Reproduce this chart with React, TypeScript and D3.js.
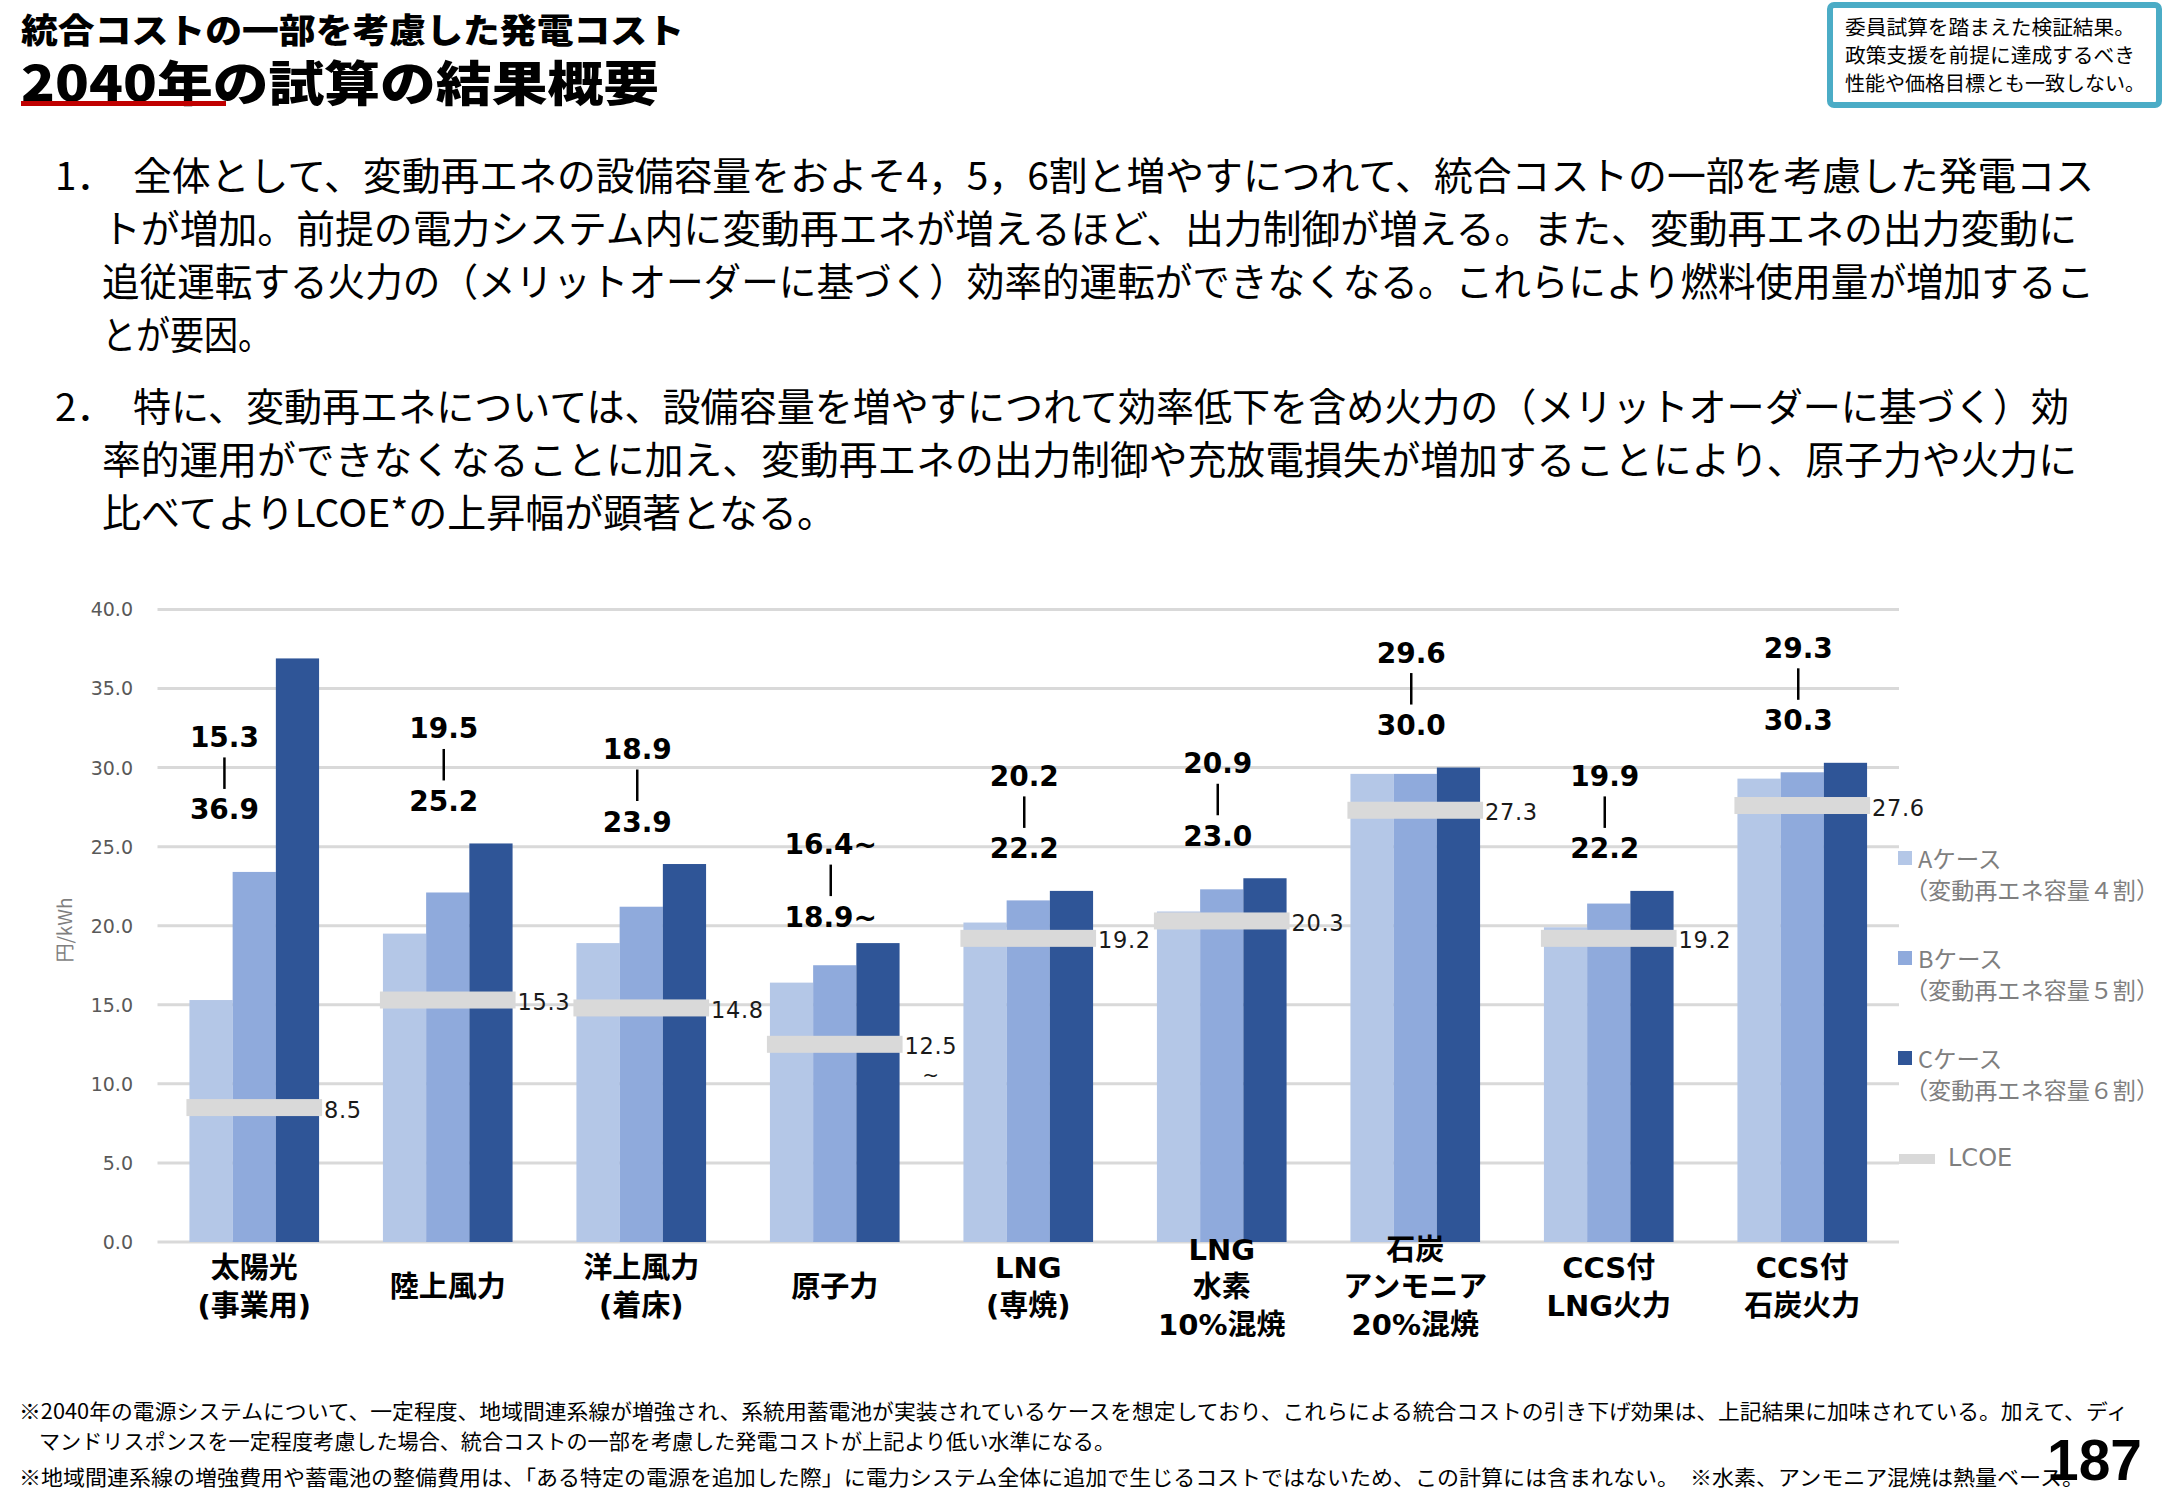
import React from "react";
import * as d3 from "d3";

// ---------------- DATA ----------------
const categoryLines: string[][] = [
  ["太陽光", "(事業用)"],
  ["陸上風力"],
  ["洋上風力", "(着床)"],
  ["原子力"],
  ["LNG", "(専焼)"],
  ["LNG", "水素", "10%混焼"],
  ["石炭", "アンモニア", "20%混焼"],
  ["CCS付", "LNG火力"],
  ["CCS付", "石炭火力"],
];
const caseA = [15.3, 19.5, 18.9, 16.4, 20.2, 20.9, 29.6, 19.9, 29.3];
const caseB = [23.4, 22.1, 21.2, 17.5, 21.6, 22.3, 29.6, 21.4, 29.7];
const caseC = [36.9, 25.2, 23.9, 18.9, 22.2, 23.0, 30.0, 22.2, 30.3];
const lcoeValues = [8.5, 15.3, 14.8, 12.5, 19.2, 20.3, 27.3, 19.2, 27.6];
const rangeSuffix = ["", "", "", "~", "", "", "", "", ""];
const lcoeOpenEnded = [false, false, false, true, false, false, false, false, false];
const yTickValues = [0, 5, 10, 15, 20, 25, 30, 35, 40];
const seriesKeys = ["A", "B", "C"];
const seriesNames = ["Aケース", "Bケース", "Cケース"];
const seriesNotes = ["（変動再エネ容量４割）", "（変動再エネ容量５割）", "（変動再エネ容量６割）"];
const lcoeName = "LCOE";
const yAxisTitle = "円/kWh";

const titleLine1 = "統合コストの一部を考慮した発電コスト";
const titleLine2 = "2040年の試算の結果概要";
const noteBoxLines = ["委員試算を踏まえた検証結果。", "政策支援を前提に達成するべき", "性能や価格目標とも一致しない。"];

const para1Marker = "1．";
const para1Lines = [
  "全体として、変動再エネの設備容量をおよそ4，5，6割と増やすにつれて、統合コストの一部を考慮した発電コス",
  "トが増加。前提の電力システム内に変動再エネが増えるほど、出力制御が増える。また、変動再エネの出力変動に",
  "追従運転する火力の（メリットオーダーに基づく）効率的運転ができなくなる。これらにより燃料使用量が増加するこ",
  "とが要因。",
];
const para2Marker = "2．";
const para2Lines = [
  "特に、変動再エネについては、設備容量を増やすにつれて効率低下を含め火力の（メリットオーダーに基づく）効",
  "率的運用ができなくなることに加え、変動再エネの出力制御や充放電損失が増加することにより、原子力や火力に",
  "比べてよりLCOE*の上昇幅が顕著となる。",
];
const footnoteLines = [
  "※2040年の電源システムについて、一定程度、地域間連系線が増強され、系統用蓄電池が実装されているケースを想定しており、これらによる統合コストの引き下げ効果は、上記結果に加味されている。加えて、ディ",
  "マンドリスポンスを一定程度考慮した場合、統合コストの一部を考慮した発電コストが上記より低い水準になる。",
  "※地域間連系線の増強費用や蓄電池の整備費用は、「ある特定の電源を追加した際」に電力システム全体に追加で生じるコストではないため、この計算には含まれない。　※水素、アンモニア混焼は熱量ベース。",
];
const pageNumber = "187";

// ---------------- STYLE ----------------
const JP = "'Noto Sans CJK JP', sans-serif";
const NUM = "'DejaVu Sans', 'Noto Sans CJK JP', sans-serif";
const seriesColors = ["#b4c7e7", "#8faadc", "#2f5597"];
const lcoeColor = "#d9d9d9";
const gridColor = "#d9d9d9";

export default function App() {
  const W = 2167;
  const H = 1500;
  const plotLeft = 157.5;
  const plotRight = 1899;
  const yBottom = 1242;
  const yTop = 609.4;

  const y = d3.scaleLinear().domain([0, 40]).range([yBottom, yTop]);
  const x0 = d3
    .scaleBand<number>()
    .domain(d3.range(categoryLines.length))
    .range([plotLeft, plotRight])
    .paddingInner(0.33)
    .paddingOuter(0.165);
  const bw = x0.bandwidth();
  const x1 = d3.scaleBand<string>().domain(seriesKeys).range([0, bw]).padding(0);
  const series = [caseA, caseB, caseC];
  const fmt = d3.format(".1f");

  // paragraph layout
  const paraFont = 38.5;
  const p1Ends = [2094, 2077, 2094, 272];
  const p2Ends = [2069, 2077, 836];
  const lineStep = 53.2;
  const p1Y0 = 172.5;
  const p2Y0 = 404;
  const firstX = 133;
  const contX = 102;

  const footY = [1410, 1440, 1476];
  const footX = [19, 39, 19];
  const footEnd = [2128, 1115, 2084];

  return (
    <svg
      width={W}
      height={H}
      viewBox={`0 0 ${W} ${H}`}
      style={{ position: "absolute", left: 0, top: 0, background: "#fff" }}
    >
      <rect x={0} y={0} width={W} height={H} fill="#fff" />

      {/* Titles */}
      <text x={21} y={28} fontFamily={JP} fontWeight={900} fontSize={34} dominantBaseline="central"
        textLength={663} lengthAdjust="spacingAndGlyphs" fill="#000">{titleLine1}</text>
      <text x={21} y={79.5} fontFamily={JP} fontWeight={900} fontSize={48} dominantBaseline="central"
        textLength={638} lengthAdjust="spacingAndGlyphs" fill="#000">{titleLine2}</text>
      <rect x={21} y={101} width={205} height={5} fill="#c00000" />

      {/* Note box */}
      <rect x={1830} y={5} width={329} height={100} rx={4} fill="#fff" stroke="#4bacc6" strokeWidth={6} />
      {noteBoxLines.map((t, i) => (
        <text key={i} x={1845} y={26 + i * 28} fontFamily={JP} fontSize={20} dominantBaseline="central" fill="#000"
          textLength={i === 2 ? 300 : 290} lengthAdjust="spacingAndGlyphs">{t}</text>
      ))}

      {/* Paragraph 1 */}
      <text x={55} y={p1Y0} fontFamily={JP} fontSize={paraFont} dominantBaseline="central" fill="#000">{para1Marker}</text>
      {para1Lines.map((t, i) => {
        const xs = i === 0 ? firstX : contX;
        return (
          <text key={i} x={xs} y={p1Y0 + i * lineStep} fontFamily={JP} fontSize={paraFont} dominantBaseline="central"
            fill="#000" textLength={p1Ends[i] - xs} lengthAdjust="spacingAndGlyphs">{t}</text>
        );
      })}
      {/* Paragraph 2 */}
      <text x={55} y={p2Y0} fontFamily={JP} fontSize={paraFont} dominantBaseline="central" fill="#000">{para2Marker}</text>
      {para2Lines.map((t, i) => {
        const xs = i === 0 ? firstX : contX;
        return (
          <text key={i} x={xs} y={p2Y0 + i * lineStep} fontFamily={JP} fontSize={paraFont} dominantBaseline="central"
            fill="#000" textLength={p2Ends[i] - xs} lengthAdjust="spacingAndGlyphs">{t}</text>
        );
      })}

      {/* Gridlines and y ticks */}
      {yTickValues.map((v) => (
        <g key={v}>
          <line x1={plotLeft} x2={plotRight} y1={y(v)} y2={y(v)} stroke={gridColor} strokeWidth={3} />
          <text x={133} y={y(v)} textAnchor="end" dominantBaseline="central" fontFamily={NUM} fontSize={19} fill="#595959">
            {fmt(v)}
          </text>
        </g>
      ))}
      <text
        transform={`translate(63, ${930}) rotate(-90)`}
        textAnchor="middle"
        dominantBaseline="central"
        fontFamily={JP}
        fontSize={19}
        fill="#7f7f7f"
      >
        {yAxisTitle}
      </text>

      {/* Bars */}
      {categoryLines.map((_, i) => (
        <g key={i} transform={`translate(${x0(i)},0)`}>
          {series.map((s, k) => (
            <rect key={k} x={x1(seriesKeys[k])} y={y(s[i])} width={x1.bandwidth()} height={y(0) - y(s[i])} fill={seriesColors[k]} />
          ))}
        </g>
      ))}

      {/* LCOE markers */}
      {lcoeValues.map((v, i) => {
        const gx = x0(i) as number;
        const lx = gx + bw + 5;
        return (
          <g key={i}>
            <rect x={gx - 3} y={y(v) - 8.5} width={bw + 6} height={17} fill={lcoeColor} />
            <text x={lx} y={y(v) + 2} dominantBaseline="central" fontFamily={NUM} fontSize={22.5} letterSpacing={0.6} fill="#1a1a1a">
              {fmt(v)}
            </text>
            {lcoeOpenEnded[i] && (
              <text x={lx + 26} y={y(v) + 31} textAnchor="middle" dominantBaseline="central" fontFamily={NUM} fontSize={20} fill="#1a1a1a">
                ~
              </text>
            )}
          </g>
        );
      })}

      {/* Range annotations (A case – C case) */}
      {categoryLines.map((_, i) => {
        const gx = x0(i) as number;
        const outlier = caseC[i] - caseB[i] > 10;
        const ax = outlier ? gx + bw * 0.27 : gx + bw / 2 - 4;
        const ref = outlier ? caseB[i] : caseC[i];
        const lowY = y(ref) - (outlier ? 62 : rangeSuffix[i] ? 26 : 42);
        const upY = lowY - 72.5;
        return (
          <g key={i} fontFamily={NUM} fontWeight="bold" fontSize={28} fill="#000">
            <text x={ax} y={upY} textAnchor="middle" dominantBaseline="central">{fmt(caseA[i]) + rangeSuffix[i]}</text>
            <line x1={ax} x2={ax} y1={upY + 20} y2={lowY - 21} stroke="#000" strokeWidth={2.5} />
            <text x={ax} y={lowY} textAnchor="middle" dominantBaseline="central">{fmt(caseC[i]) + rangeSuffix[i]}</text>
          </g>
        );
      })}

      {/* Category labels */}
      {categoryLines.map((lines, i) => {
        const cx = (x0(i) as number) + bw / 2;
        const step = 37.5;
        const c = 1287;
        return (
          <text key={i} textAnchor="middle" fontFamily={NUM} fontWeight="bold" fontSize={29} fill="#000">
            {lines.map((l, j) => (
              <tspan key={j} x={cx} y={c + (j - (lines.length - 1) / 2) * step} dominantBaseline="central">
                {l}
              </tspan>
            ))}
          </text>
        );
      })}

      {/* Legend */}
      {seriesNames.map((n, k) => {
        const cy = 858 + k * 100;
        return (
          <g key={k}>
            <rect x={1898} y={cy - 7} width={14} height={14} fill={seriesColors[k]} />
            <text x={1918} y={cy} dominantBaseline="central" fontFamily={JP} fontSize={23.5} fill="#7f7f7f">{n}</text>
            <text x={1905} y={cy + 31} dominantBaseline="central" fontFamily={JP} fontSize={23} fill="#7f7f7f"
              textLength={254} lengthAdjust="spacingAndGlyphs">{seriesNotes[k]}</text>
          </g>
        );
      })}
      <rect x={1899} y={1154} width={36} height={10} fill={lcoeColor} />
      <text x={1948} y={1158} dominantBaseline="central" fontFamily={NUM} fontSize={24} fill="#7f7f7f">{lcoeName}</text>

      {/* Footnotes */}
      {footnoteLines.map((t, i) => (
        <text key={i} x={footX[i]} y={footY[i]} dominantBaseline="central" fontFamily={JP} fontSize={21} fill="#000"
          textLength={footEnd[i] - footX[i]} lengthAdjust="spacingAndGlyphs">{t}</text>
      ))}
      <text x={2047} y={1459} dominantBaseline="central" fontFamily="'Liberation Sans', sans-serif" fontWeight="bold"
        fontSize={58} textLength={95} lengthAdjust="spacingAndGlyphs" fill="#000">{pageNumber}</text>
    </svg>
  );
}
